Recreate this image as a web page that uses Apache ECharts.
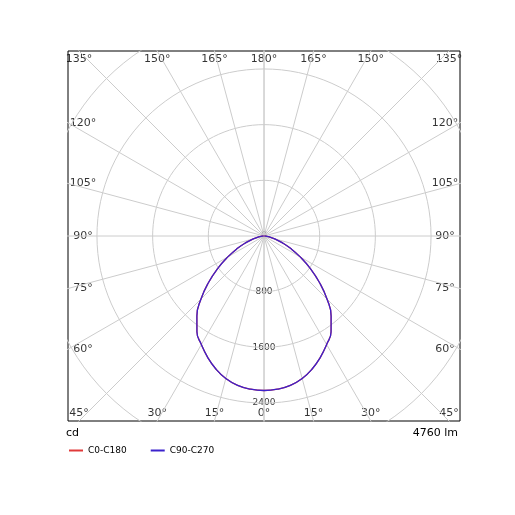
<!DOCTYPE html>
<html><head><meta charset="utf-8">
<script src="https://cdn.jsdelivr.net/npm/echarts@6/dist/echarts.min.js"></script>
<style>html,body{margin:0;padding:0;background:#fff}#c{width:515px;height:515px}</style>
</head><body><div id="c"></div>
<script>
// gamma angle from nadir (deg) and intensity (cd)
var gammaDeg = [0,5,10,15,20,25,30,35,40,45,50,55,60,65,70,75,80,85,90];
var c0c180  = [2220,2210,2180,2120,2030,1920,1800,1680,1500,1280,1040,810,600,420,270,160,80,30,5];
var c90c270 = [2220,2210,2180,2120,2030,1920,1800,1680,1500,1280,1040,810,600,420,270,160,80,30,5];
var ringValues = [800,1600,2400,3200,4000];
var radialLabels = [0,800,1600,2400];
var spokeAngles = [0,15,30,45,60,75,90,105,120,135,150,165,180];
var XMAX = 2816, YMAX = 2658;

function toXY(r, g, side){
    var a = g*Math.PI/180;
    return [side*r*Math.sin(a), -r*Math.cos(a)];
}
function curve(vals){
    var pts = [];
    for(var i=gammaDeg.length-1;i>=0;i--) pts.push(toXY(vals[i],gammaDeg[i],-1));
    for(var i=1;i<gammaDeg.length;i++) pts.push(toXY(vals[i],gammaDeg[i],1));
    return pts;
}
var gridSeries = [];
ringValues.forEach(function(r){
    var pts = [];
    for(var d=0; d<=360; d+=3) pts.push(toXY(r,d,1));
    gridSeries.push({type:'line',data:pts,symbol:'none',silent:true,lineStyle:{color:'#cccccc',width:1}});
});
spokeAngles.forEach(function(g){
    [1,-1].forEach(function(s){
        gridSeries.push({type:'line',data:[[0,0],toXY(6000,g,s)],symbol:'none',silent:true,lineStyle:{color:'#cccccc',width:1}});
    });
});
// angle labels at box edge
var angleLabelData = [];
spokeAngles.forEach(function(g){
    [1,-1].forEach(function(s){
        if(s==-1 && (g==0||g==180)) return;
        var a = g*Math.PI/180, sx = Math.sin(a)*s, cy = -Math.cos(a);
        var tx = Math.abs(sx)>1e-6 ? XMAX/Math.abs(sx) : 1e9;
        var ty = Math.abs(cy)>1e-6 ? YMAX/Math.abs(cy) : 1e9;
        var t = Math.min(tx,ty), off;
        if(ty<=tx) off = cy<0 ? [0,-8] : [0,8];
        else off = sx<0 ? [15,0] : [-15,0];
        angleLabelData.push({value:[sx*t, cy*t], label:{offset:off, formatter:g+'°'}});
    });
});
var radialData = radialLabels.map(function(v){ return {value:[0.001,-v-0.001], label:{formatter:String(v)}}; });

var chart = echarts.init(document.getElementById('c'));
chart.setOption({
    animation:false,
    grid:{left:68,top:51,width:392,height:370,show:true,borderColor:'#000',borderWidth:1},
    xAxis:{type:'value',min:-XMAX,max:XMAX,show:false},
    yAxis:{type:'value',min:-YMAX,max:YMAX,show:false},
    legend:{left:64,top:441,itemWidth:14,itemHeight:2,itemGap:24,icon:'rect',
        textStyle:{fontSize:9,color:'#000',fontFamily:'DejaVu Sans'},data:['C0-C180','C90-C270']},
    graphic:[
        {type:'text',left:66,top:428,style:{text:'cd',fontSize:11,fontFamily:'DejaVu Sans',fill:'#000'}},
        {type:'text',right:57,top:428,style:{text:'4760 lm',fontSize:11,fontFamily:'DejaVu Sans',fill:'#000'}}
    ],
    series: gridSeries.concat([
        {name:'C0-C180',type:'line',data:curve(c0c180),symbol:'none',smooth:true,lineStyle:{color:'#e03a3a',width:1.3},itemStyle:{color:'#e03a3a'}},
        {name:'C90-C270',type:'line',data:curve(c90c270),symbol:'none',smooth:true,lineStyle:{color:'#3b22cc',width:1.3},itemStyle:{color:'#3b22cc'}},
        {type:'scatter',data:radialData,symbolSize:1,silent:true,itemStyle:{color:'rgba(0,0,0,0)'},
            label:{show:true,position:'inside',fontSize:9,color:'#000',fontFamily:'DejaVu Sans'}},
        {type:'scatter',data:angleLabelData,symbolSize:0,silent:true,clip:false,
            label:{show:true,position:'inside',fontSize:11,color:'#000',fontFamily:'DejaVu Sans'}}
    ])
});
</script></body></html>
